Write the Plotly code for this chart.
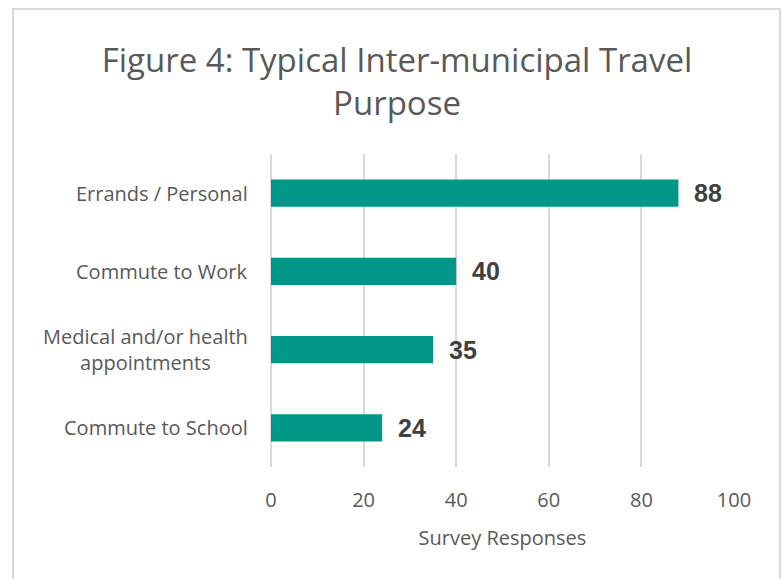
import plotly.graph_objects as go

categories = ["Errands / Personal", "Commute to Work",
              "Medical and/or health<br>appointments", "Commute to School"]
responses = [88, 40, 35, 24]
x_ticks = [0, 20, 40, 60, 80, 100]

W, H = 781, 579
L, R, T, B = 271, 47, 154, 112

teal = "#009688"
grey_text = "#595959"
grid = "#d9d9d9"

fig = go.Figure()
fig.add_trace(go.Bar(
    y=categories, x=responses, orientation="h",
    marker=dict(color=teal, line=dict(width=0)),
    width=0.35, hoverinfo="x+y",
))

# value labels just past each bar end
for c, v in zip(categories, responses):
    fig.add_annotation(x=v, y=c, xref="x", yref="y", text=f"<b>{v}</b>",
                       showarrow=False, xanchor="left", xshift=14,
                       font=dict(family="Liberation Sans", size=25, color="#404040"))

# category labels: block right-aligned, lines centred within the block
for c in categories:
    fig.add_annotation(x=0, y=c, xref="paper", yref="y", text=c,
                       showarrow=False, xanchor="right", xshift=-21, align="center",
                       font=dict(family="Open Sans", size=20, color=grey_text))

pw, ph = W - L - R, H - T - B
# outer chart border
fig.add_shape(type="rect", xref="paper", yref="paper",
              x0=(13 - L) / pw, x1=(780 - L) / pw,
              y0=(H - B - 700) / ph, y1=(H - B - 9) / ph,
              line=dict(color=grid, width=2), fillcolor="rgba(0,0,0,0)", layer="below")

fig.update_layout(
    width=W, height=H,
    margin=dict(l=L, r=R, t=T, b=B),
    paper_bgcolor="white", plot_bgcolor="white",
    showlegend=False, bargap=0.65,
    title=dict(text="Figure 4: Typical Inter-municipal Travel<br>Purpose",
               x=397 / W, xanchor="center", y=1 - 72 / H, yanchor="middle",
               font=dict(family="Open Sans", size=33, color=grey_text)),
    xaxis=dict(range=[0, 100], tickvals=x_ticks, showgrid=True, gridcolor=grid,
               gridwidth=1.5, zeroline=True, zerolinecolor=grid, zerolinewidth=1.5,
               showline=False, ticks="", ticklabelstandoff=19,
               tickfont=dict(family="Open Sans", size=20, color=grey_text),
               title=dict(text="Survey Responses", standoff=18,
                          font=dict(family="Open Sans", size=20, color=grey_text))),
    yaxis=dict(autorange="reversed", showticklabels=False, showgrid=False,
               zeroline=False, showline=False, ticks=""),
)

fig.write_html("out.html")
